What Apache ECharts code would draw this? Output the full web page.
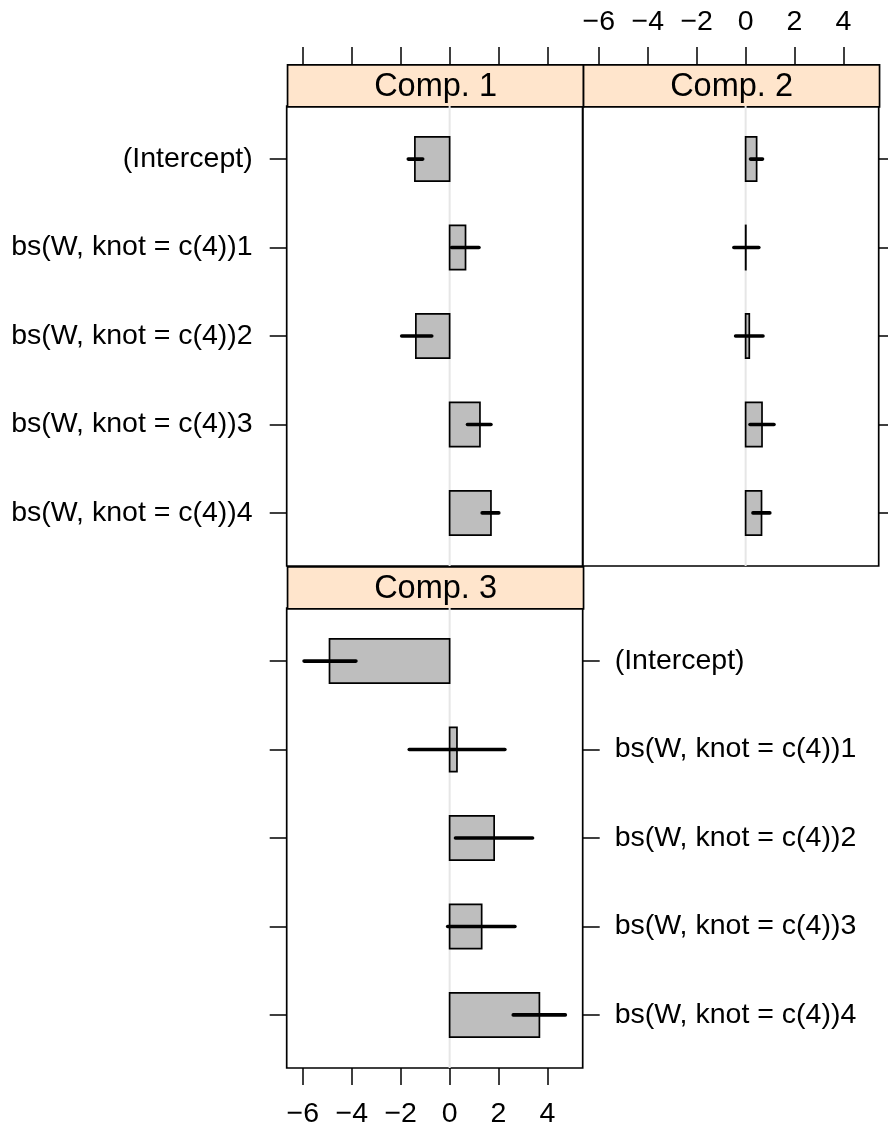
<!DOCTYPE html>
<html>
<head>
<meta charset="utf-8">
<title>Coefficients by component</title>
<script src="https://cdn.jsdelivr.net/npm/echarts@6/dist/echarts.min.js"></script>
<style>
  html, body { margin: 0; padding: 0; background: #ffffff; }
  #chart { width: 888px; height: 1128px; }
</style>
</head>
<body>
<div id="chart"></div>
<script>
// Row labels (top to bottom) and panel titles
const categories = [
  '(Intercept)',
  'bs(W, knot = c(4))1',
  'bs(W, knot = c(4))2',
  'bs(W, knot = c(4))3',
  'bs(W, knot = c(4))4'
];
const panelTitles = ['Comp. 1', 'Comp. 2', 'Comp. 3'];

// Coefficient (bar) and interval (segment) per component
const comp1Coef = [-1.42, 0.65, -1.38, 1.24, 1.69];
const comp1Low  = [-1.69, 0.08, -1.96, 0.73, 1.33];
const comp1High = [-1.10, 1.20, -0.73, 1.69, 2.01];

const comp2Coef = [0.45, 0.01, 0.15, 0.67, 0.65];
const comp2Low  = [0.20, -0.48, -0.41, 0.18, 0.30];
const comp2High = [0.69, 0.54, 0.71, 1.16, 0.99];

const comp3Coef = [-4.91, 0.30, 1.82, 1.31, 3.67];
const comp3Low  = [-5.95, -1.65, 0.24, -0.08, 2.60];
const comp3High = [-3.83, 2.26, 3.39, 2.67, 4.73];

// Axis ticks
const xTicks = [-6, -4, -2, 0, 2, 4];
const rowTicks = [1, 2, 3, 4, 5];

// ---- layout ----
const FONT = '"Liberation Sans", Arial, Helvetica, sans-serif';
const X_MIN = -6.66, X_MAX = 5.44;
const Y_MIN = 0.4, Y_MAX = 5.6;
const PANEL_W = 296, PANEL_H = 460, STRIP_H = 42;
const LEFT1 = 286.7, LEFT2 = 582.7;
const TOP1 = 106, TOP2 = 608;
const TICK_LEN = 17;
const STRIP_FILL = '#ffe5cc';

const fmtNum = v => (v < 0 ? '\u2212' + Math.abs(v) : String(v));

function rows(coef, lo, hi) {
  return coef.map((v, i) => [v, i + 1, lo[i], hi[i]]);
}

function renderCoef(params, api) {
  const v = api.value(0), r = api.value(1), lo = api.value(2), hi = api.value(3);
  const a = api.coord([0, r - 0.25]);
  const b = api.coord([v, r + 0.25]);
  const l0 = api.coord([lo, r]);
  const l1 = api.coord([hi, r]);
  return {
    type: 'group',
    children: [
      {
        type: 'rect',
        shape: {
          x: Math.min(a[0], b[0]), y: Math.min(a[1], b[1]),
          width: Math.abs(b[0] - a[0]), height: Math.abs(b[1] - a[1])
        },
        style: { fill: '#bebebe', stroke: '#000000', lineWidth: 1.7 }
      },
      {
        type: 'line',
        shape: { x1: l0[0], y1: l0[1], x2: l1[0], y2: l1[1] },
        style: { stroke: '#000000', lineWidth: 3.6, lineCap: 'round' }
      }
    ]
  };
}

function renderZero(params, api) {
  const a = api.coord([0, Y_MIN]);
  const b = api.coord([0, Y_MAX]);
  return {
    type: 'line',
    shape: { x1: a[0], y1: a[1], x2: b[0], y2: b[1] },
    style: { stroke: '#e6e6e6', lineWidth: 2 }
  };
}

const tickStyle = { color: '#000000', width: 1.5 };
const labelStyle = { color: '#000000', fontSize: 28.5, fontFamily: FONT };

function xAxis(gridIndex, position, showLabels, offset, margin) {
  return {
    type: 'value', gridIndex, position, offset: offset || 0,
    min: X_MIN, max: X_MAX,
    axisLine: { show: false, onZero: false },
    axisTick: { show: true, inside: false, length: TICK_LEN, customValues: xTicks, lineStyle: tickStyle },
    axisLabel: { show: showLabels, customValues: xTicks, margin: margin || 30, formatter: fmtNum, ...labelStyle },
    splitLine: { show: false }
  };
}

function yAxis(gridIndex, position, showLabels, margin) {
  return {
    type: 'value', gridIndex, position, inverse: true,
    min: Y_MIN, max: Y_MAX,
    axisLine: { show: false, onZero: false },
    axisTick: { show: true, inside: false, length: TICK_LEN, customValues: rowTicks, lineStyle: tickStyle },
    axisLabel: {
      show: showLabels, customValues: rowTicks, margin: margin || 34,
      formatter: v => categories[Math.round(v) - 1] || '', ...labelStyle
    },
    splitLine: { show: false }
  };
}

const gridBase = {
  width: PANEL_W, height: PANEL_H, show: true,
  borderColor: '#000000', borderWidth: 1.7, backgroundColor: 'transparent',
  containLabel: false, outerBoundsMode: 'none'
};

function strip(x, y, text) {
  return {
    type: 'group', left: x, top: y,
    children: [
      {
        type: 'rect', shape: { x: 0, y: 0, width: PANEL_W, height: STRIP_H },
        style: { fill: STRIP_FILL, stroke: '#000000', lineWidth: 1.7 }
      },
      {
        type: 'text', x: PANEL_W / 2, y: STRIP_H / 2 + 1,
        style: {
          text, fill: '#000000', fontSize: 32.5, fontFamily: FONT,
          align: 'center', verticalAlign: 'middle'
        }
      }
    ]
  };
}

const chart = echarts.init(document.getElementById('chart'), null, { renderer: 'canvas' });

const option = {
  animation: false,
  backgroundColor: '#ffffff',
  textStyle: { fontFamily: FONT },
  grid: [
    { ...gridBase, left: LEFT1, top: TOP1 },
    { ...gridBase, left: LEFT2, top: TOP1 },
    { ...gridBase, left: LEFT1, top: TOP2 }
  ],
  xAxis: [
    xAxis(0, 'top', false, STRIP_H, 27),
    xAxis(1, 'top', true, STRIP_H, 27),
    xAxis(2, 'bottom', true, 0, 32)
  ],
  yAxis: [
    yAxis(0, 'left', true, 34),
    yAxis(1, 'right', false),
    yAxis(2, 'left', false),
    yAxis(2, 'right', true, 32)
  ],
  graphic: [
    strip(LEFT1, TOP1 - STRIP_H, panelTitles[0]),
    strip(LEFT2, TOP1 - STRIP_H, panelTitles[1]),
    strip(LEFT1, TOP2 - STRIP_H, panelTitles[2])
  ],
  series: [
    { type: 'custom', xAxisIndex: 0, yAxisIndex: 0, z: 1, silent: true, renderItem: renderZero, data: [[0]] },
    { type: 'custom', xAxisIndex: 1, yAxisIndex: 1, z: 1, silent: true, renderItem: renderZero, data: [[0]] },
    { type: 'custom', xAxisIndex: 2, yAxisIndex: 2, z: 1, silent: true, renderItem: renderZero, data: [[0]] },
    { type: 'custom', name: panelTitles[0], xAxisIndex: 0, yAxisIndex: 0, z: 2, renderItem: renderCoef,
      data: rows(comp1Coef, comp1Low, comp1High) },
    { type: 'custom', name: panelTitles[1], xAxisIndex: 1, yAxisIndex: 1, z: 2, renderItem: renderCoef,
      data: rows(comp2Coef, comp2Low, comp2High) },
    { type: 'custom', name: panelTitles[2], xAxisIndex: 2, yAxisIndex: 2, z: 2, renderItem: renderCoef,
      data: rows(comp3Coef, comp3Low, comp3High) }
  ]
};

chart.setOption(option);
</script>
</body>
</html>
